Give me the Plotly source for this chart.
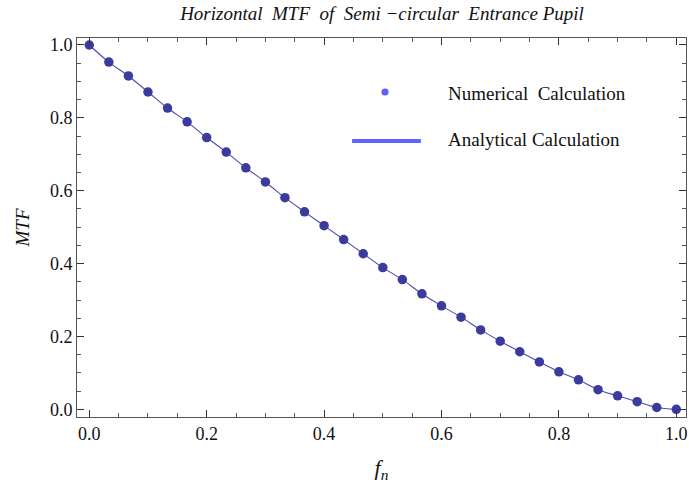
import plotly.graph_objects as go

# Data
fn = [i / 30 for i in range(31)]
mtf_numerical = [1.0, 0.953, 0.915, 0.871, 0.827, 0.789, 0.746, 0.706, 0.663, 0.624,
                 0.581, 0.542, 0.504, 0.466, 0.427, 0.389, 0.356, 0.317, 0.284, 0.253,
                 0.218, 0.187, 0.158, 0.130, 0.103, 0.081, 0.054, 0.037, 0.021, 0.005, 0.0]
mtf_analytical = mtf_numerical
x_ticks = [0.0, 0.2, 0.4, 0.6, 0.8, 1.0]
y_ticks = [0.0, 0.2, 0.4, 0.6, 0.8, 1.0]
x_ticklabels = ["0.0", "0.2", "0.4", "0.6", "0.8", "1.0"]
y_ticklabels = ["0.0", "0.2", "0.4", "0.6", "0.8", "1.0"]

SERIF = "Liberation Serif"

fig = go.Figure()
fig.add_trace(go.Scatter(x=fn, y=mtf_analytical, mode="lines",
                         line=dict(color="#4a4aae", width=1.1, shape="spline"),
                         showlegend=False, hoverinfo="skip"))
fig.add_trace(go.Scatter(x=fn, y=mtf_numerical, mode="markers",
                         marker=dict(color="#3b3b9e", size=9.5, line=dict(width=0)),
                         showlegend=False))

axis_common = dict(
    showgrid=False, zeroline=False, showline=True, linecolor="#555555", linewidth=1,
    mirror="ticks", ticks="inside", ticklen=7, tickwidth=1, tickcolor="#333333",
    tickfont=dict(family=SERIF, size=18, color="#111111"),
    ticklabeloverflow="allow",
    minor=dict(ticks="inside", ticklen=4, tickwidth=1, tickcolor="#555555", dtick=0.05),
)

fig.update_xaxes(range=[-0.0209, 1.0165], tickvals=x_ticks, ticktext=x_ticklabels,
                 title=dict(text="<i>f</i><sub><i>n</i></sub>",
                            font=dict(family=SERIF, size=22, color="#111111"), standoff=17),
                 **axis_common)
fig.update_yaxes(range=[-0.0211, 1.0192], tickvals=y_ticks, ticktext=y_ticklabels,
                 title=dict(text="<i>MTF</i>",
                            font=dict(family=SERIF, size=19, color="#111111"), standoff=15),
                 **axis_common)

# Legend drawn as shapes + text (Mathematica-style placement)
L, R, T, B, W, H = 77, 1, 38, 71, 689, 488
pw, ph = W - L - R, H - T - B
def px(x):
    return (x - L) / pw
def py(y):
    return (H - B - y) / ph

shapes = [
    dict(type="circle", xref="paper", yref="paper",
         x0=px(386 - 3.6), x1=px(386 + 3.6), y0=py(92 + 3.6), y1=py(92 - 3.6),
         fillcolor="#5f5ff5", line=dict(width=0)),
    dict(type="line", xref="paper", yref="paper",
         x0=px(353), x1=px(422), y0=py(141), y1=py(141),
         line=dict(color="#6262ff", width=4)),
]
annotations = [
    dict(text="Numerical  Calculation", xref="paper", yref="paper", x=px(447), y=py(93),
         xanchor="left", yanchor="middle", showarrow=False,
         font=dict(family=SERIF, size=19, color="#111111")),
    dict(text="Analytical Calculation", xref="paper", yref="paper", x=px(447), y=py(139),
         xanchor="left", yanchor="middle", showarrow=False,
         font=dict(family=SERIF, size=19, color="#111111")),
]

fig.update_layout(
    width=W, height=H,
    margin=dict(l=L, r=R, t=T, b=B),
    paper_bgcolor="white", plot_bgcolor="white",
    title=dict(text="<i>Horizontal  MTF  of  Semi \u2212circular  Entrance Pupil</i>",
               x=px(383), xanchor="center", xref="paper", y=1 - 13 / H, yanchor="middle",
               font=dict(family=SERIF, size=19, color="#111111")),
    shapes=shapes, annotations=annotations, showlegend=False,
)

fig.write_html("out.html")
